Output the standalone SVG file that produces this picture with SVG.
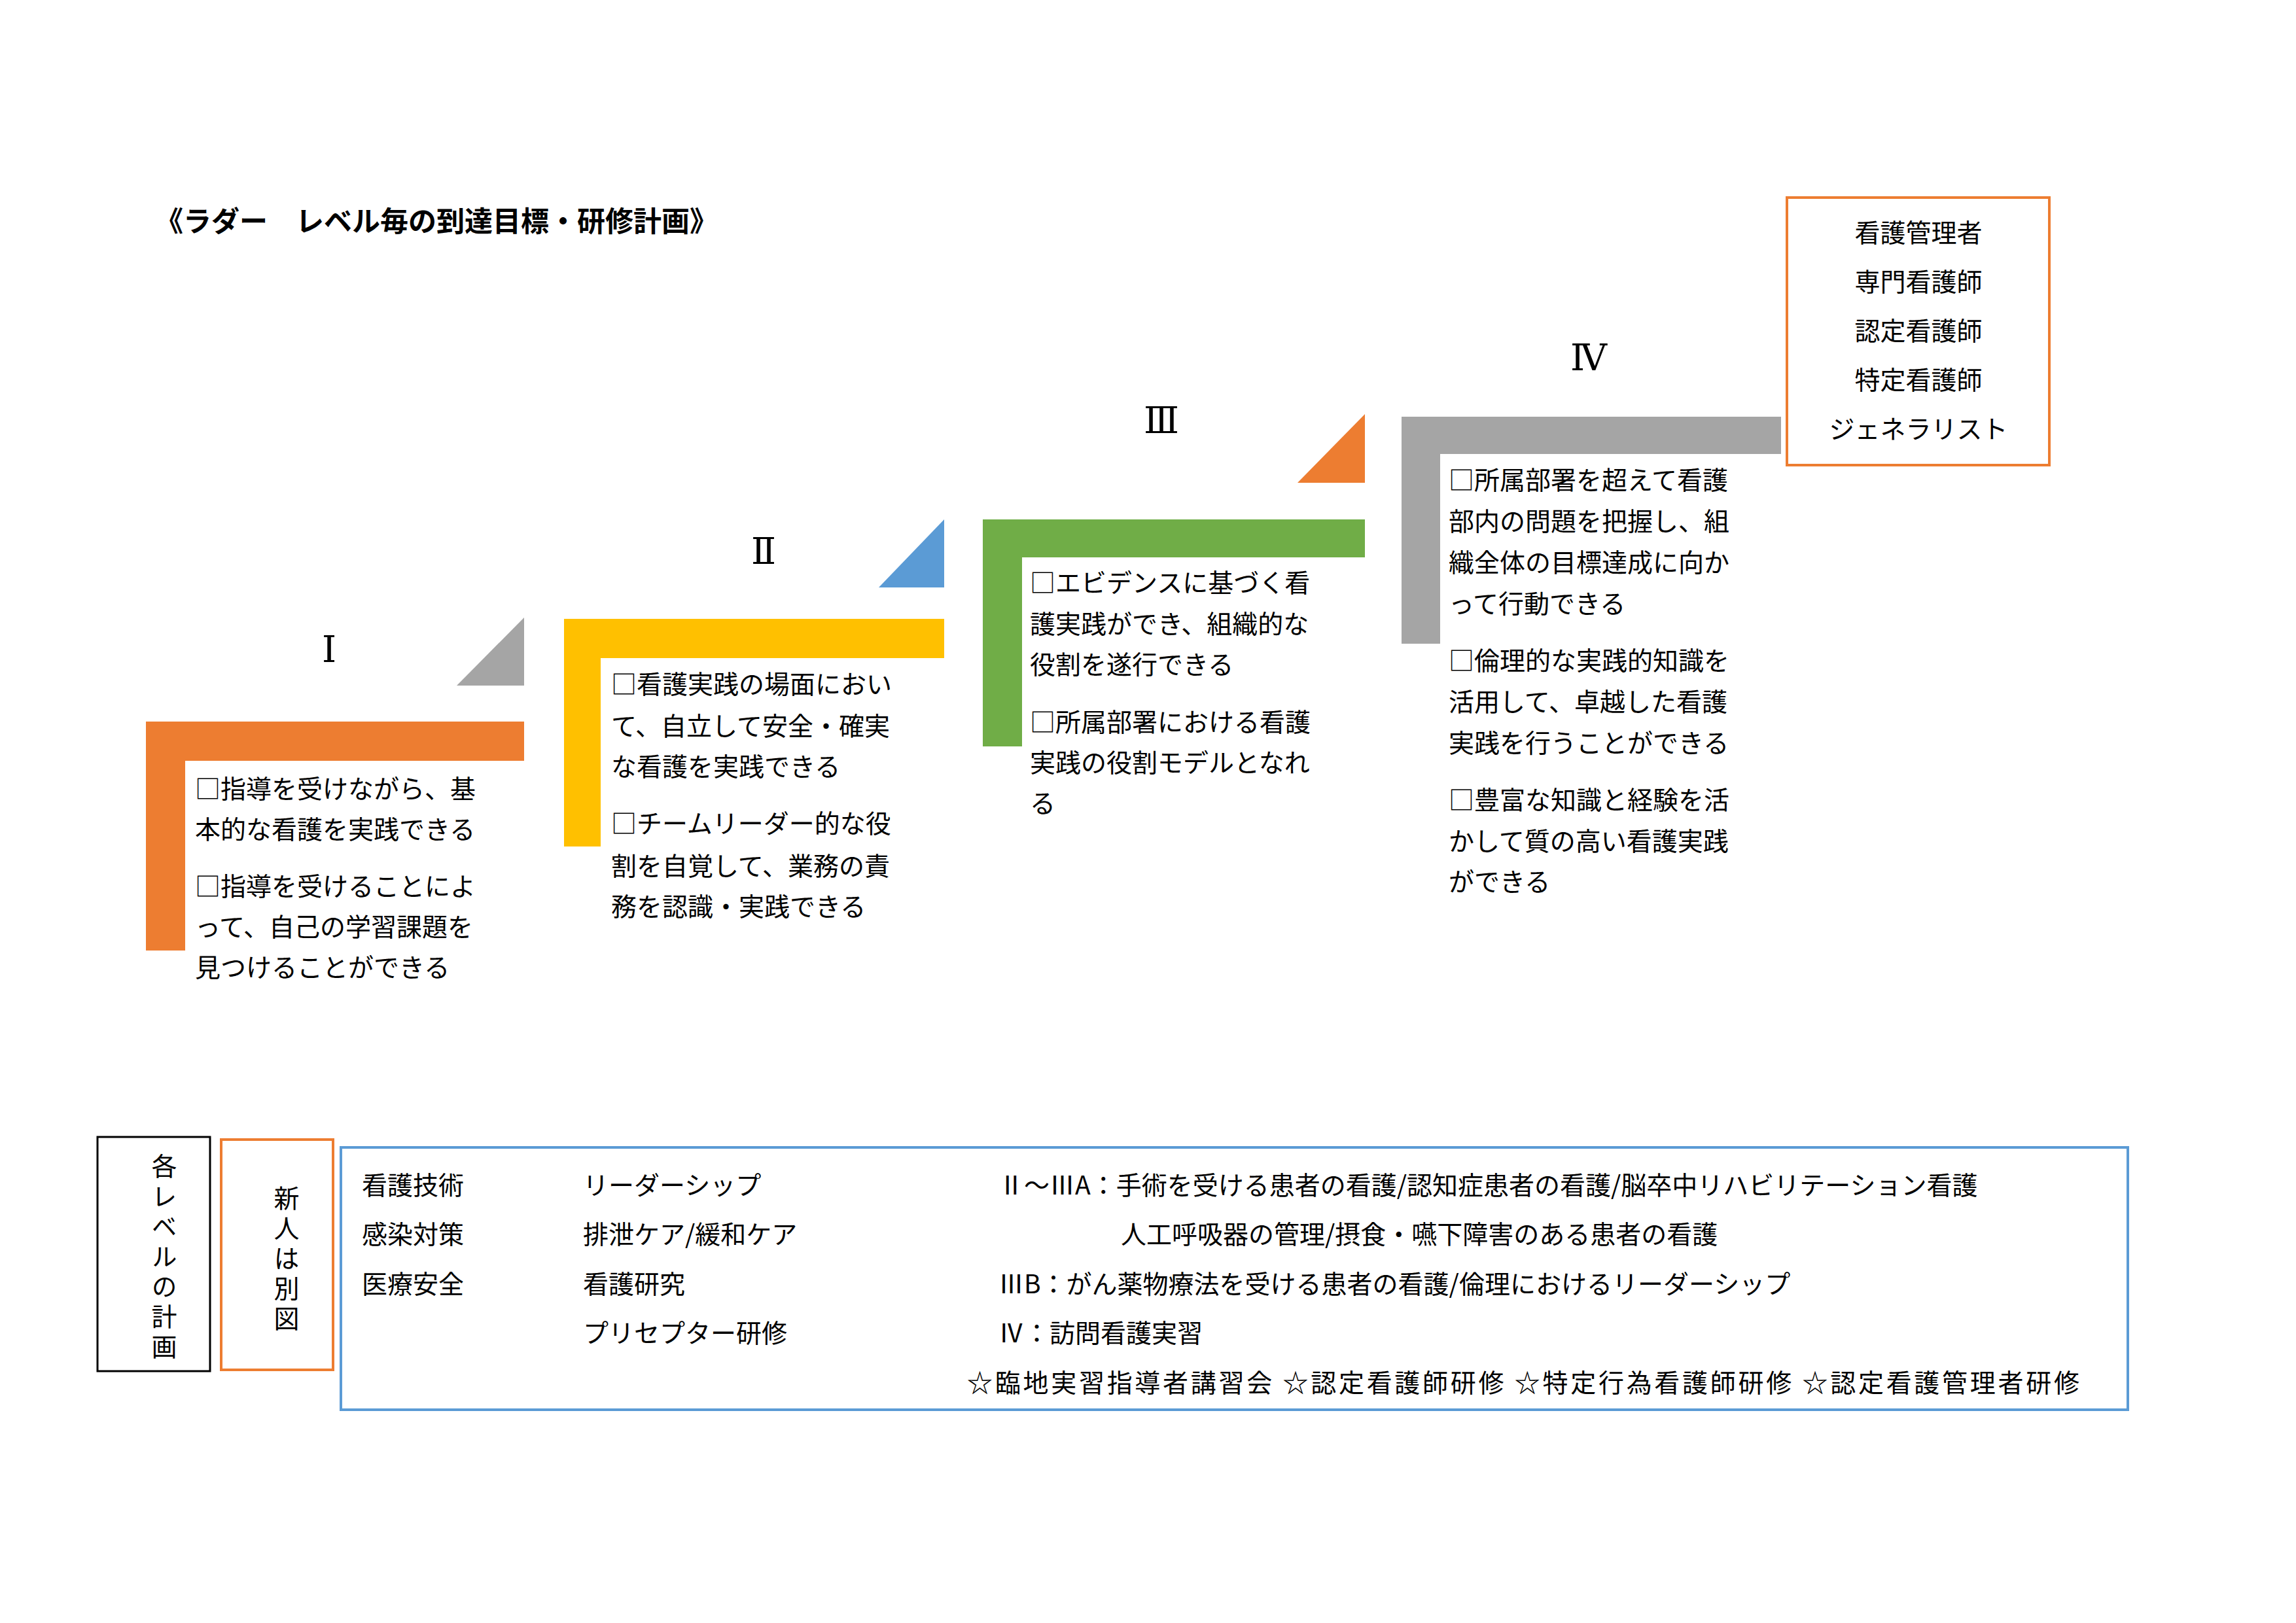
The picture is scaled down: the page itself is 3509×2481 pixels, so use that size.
<svg xmlns="http://www.w3.org/2000/svg" width="3509" height="2481" viewBox="0 0 3509 2481">
<style>
text{font-family:"Noto Sans CJK JP","Noto Sans CJK SC",sans-serif;font-size:39px;fill:#000}
.t{font-size:43px;font-weight:bold}
.n{font-family:"DejaVu Serif","Liberation Serif","Noto Sans CJK JP",serif;font-size:56px;text-anchor:middle}
.c{text-anchor:middle}
.v{writing-mode:vertical-rl;letter-spacing:7px}
</style>
<rect width="3509" height="2481" fill="#fff"/>
<text class="t" x="237" y="354">《ラダー　レベル毎の到達目標・研修計画》</text>
<g id="level1">
<path d="M223 1103H801V1163H283V1453H223Z" fill="#ED7D31"/>
<path d="M698 1048H801V944Z" fill="#A5A5A5"/>
<text class="n" x="503" y="1012">Ⅰ</text>
<text x="298" y="1220">□指導を受けながら、基</text>
<text x="298" y="1282">本的な看護を実践できる</text>
<text x="298" y="1369">□指導を受けることによ</text>
<text x="298" y="1431">って、自己の学習課題を</text>
<text x="298" y="1493">見つけることができる</text>
</g>
<g id="level2">
<path d="M862 946H1443V1006H918V1294H862Z" fill="#FFC000"/>
<path d="M1343 898H1443V794Z" fill="#5B9BD5"/>
<text class="n" x="1167" y="862">Ⅱ</text>
<text x="934" y="1060">□看護実践の場面におい</text>
<text x="934" y="1124">て、自立して安全・確実</text>
<text x="934" y="1186">な看護を実践できる</text>
<text x="934" y="1273">□チームリーダー的な役</text>
<text x="934" y="1338">割を自覚して、業務の責</text>
<text x="934" y="1400">務を認識・実践できる</text>
</g>
<g id="level3">
<path d="M1502 794H2086V852H1562V1141H1502Z" fill="#70AD47"/>
<path d="M1983 738H2086V633Z" fill="#ED7D31"/>
<text class="n" x="1775" y="662">Ⅲ</text>
<text x="1574" y="905">□エビデンスに基づく看</text>
<text x="1574" y="968">護実践ができ、組織的な</text>
<text x="1574" y="1030">役割を遂行できる</text>
<text x="1574" y="1118">□所属部署における看護</text>
<text x="1574" y="1180">実践の役割モデルとなれ</text>
<text x="1574" y="1242">る</text>
</g>
<g id="level4">
<path d="M2142 637H2722V694H2201V984H2142Z" fill="#A5A5A5"/>
<text class="n" x="2428" y="566">Ⅳ</text>
<text x="2214" y="748">□所属部署を超えて看護</text>
<text x="2214" y="811">部内の問題を把握し、組</text>
<text x="2214" y="874">織全体の目標達成に向か</text>
<text x="2214" y="937">って行動できる</text>
<text x="2214" y="1024">□倫理的な実践的知識を</text>
<text x="2214" y="1087">活用して、卓越した看護</text>
<text x="2214" y="1150">実践を行うことができる</text>
<text x="2214" y="1237">□豊富な知識と経験を活</text>
<text x="2214" y="1300">かして質の高い看護実践</text>
<text x="2214" y="1362">ができる</text>
</g>
<g id="career">
<rect x="2731" y="302" width="401" height="409" fill="none" stroke="#ED7D31" stroke-width="4"/>
<text class="c" x="2932" y="370">看護管理者</text>
<text class="c" x="2932" y="445">専門看護師</text>
<text class="c" x="2932" y="520">認定看護師</text>
<text class="c" x="2932" y="595">特定看護師</text>
<text class="c" x="2932" y="670">ジェネラリスト</text>
</g>
<g id="plan-label">
<rect x="149" y="1738" width="172" height="358" fill="none" stroke="#000" stroke-width="3"/>
<text class="v" x="251" y="1763">各レベルの計画</text>
</g>
<g id="new-label">
<rect x="338" y="1742" width="171" height="352" fill="none" stroke="#ED7D31" stroke-width="4"/>
<text class="v" x="438" y="1812">新人は別図</text>
</g>
<g id="plan-box">
<rect x="521" y="1754" width="2731" height="401" fill="none" stroke="#5B9BD5" stroke-width="4"/>
<text x="553" y="1826">看護技術</text>
<text x="553" y="1901">感染対策</text>
<text x="553" y="1977">医療安全</text>
<text x="891" y="1826">リーダーシップ</text>
<text x="891" y="1901">排泄ケア/緩和ケア</text>
<text x="891" y="1977">看護研究</text>
<text x="891" y="2052">プリセプター研修</text>
<text x="1526" y="1826">Ⅱ～ⅢA：手術を受ける患者の看護/認知症患者の看護/脳卒中リハビリテーション看護</text>
<text x="1713" y="1901">人工呼吸器の管理/摂食・嚥下障害のある患者の看護</text>
<text x="1526" y="1977">ⅢB：がん薬物療法を受ける患者の看護/倫理におけるリーダーシップ</text>
<text x="1526" y="2052">Ⅳ：訪問看護実習</text>
<text x="1478" y="2128" textLength="1700">☆臨地実習指導者講習会 ☆認定看護師研修 ☆特定行為看護師研修 ☆認定看護管理者研修</text>
</g>
<g id="connectors"/>
</svg>
